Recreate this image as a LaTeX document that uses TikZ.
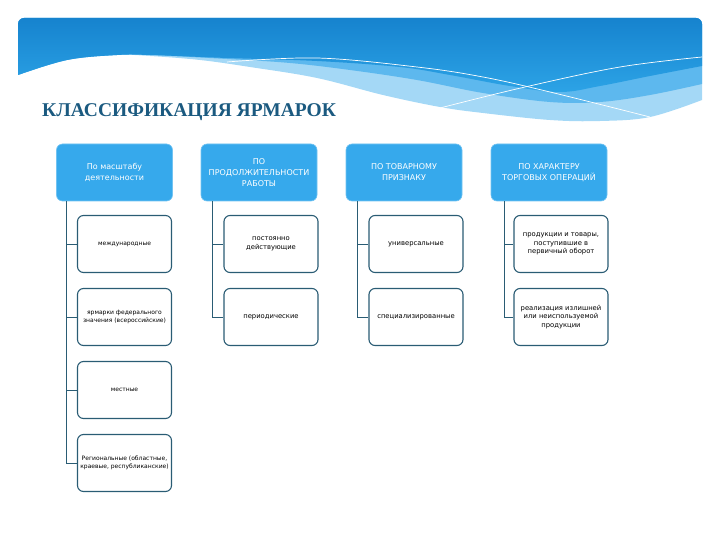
\documentclass[tikz,border=0pt]{standalone}
\usepackage{fontspec}
\setmainfont{DejaVu Sans}
\newfontfamily\titlefont{Liberation Serif}
\definecolor{hdrblue}{HTML}{36A9EC}
\definecolor{teal}{HTML}{2A5C74}
\definecolor{titleblue}{HTML}{1B5A80}
\definecolor{bandtop}{HTML}{1683CE}
\definecolor{bandbot}{HTML}{2CA3E6}
\definecolor{bandmid}{HTML}{5DB8EE}
\definecolor{bandlight}{HTML}{A4D8F6}
\tikzset{
  hdr/.style={fill=hdrblue, draw=hdrblue!70!white, line width=0.6pt, rounded corners=6pt,
    minimum width=116pt, minimum height=57pt, text=white, align=center,
    font=\fontsize{8}{11}\selectfont, inner sep=2pt},
  child/.style={fill=white, draw=teal, line width=1.1pt, rounded corners=6pt,
    minimum width=94pt, minimum height=57pt, text=black, align=center,
    font=\fontsize{6}{8}\selectfont, inner sep=2pt},
  childb/.style={child, font=\fontsize{6.8}{8.5}\selectfont},
  conn/.style={draw=teal, line width=0.9pt},
  wline/.style={draw=white, line width=0.7pt}
}
\begin{document}
\begin{tikzpicture}[x=1pt,y=-1pt]
\useasboundingbox (0,0) rectangle (720,540);
% banner light layer
\fill[bandlight] (18,75) [rounded corners=6pt] -- (18,18) -- (702,18) [sharp corners] -- (702,100)
  -- plot[smooth, tension=0.6] coordinates {(702,100) (650,117) (600,121) (550,120) (483,113) (440,107) (383,95) (317,78) (250,67) (200,60) (150,56) (117,55) (67,60) (18,75)} -- cycle;
% medium layer
\fill[bandmid] (18,75) [rounded corners=6pt] -- (18,18) -- (702,18) [sharp corners] -- (702,84)
  -- plot[smooth, tension=0.6] coordinates {(702,84) (650,95) (600,102) (550,102) (483,93) (417,80) (350,70) (290,63) (227,59) (150,55) (117,55) (67,60) (18,75)} -- cycle;
% dark layer
\shade[top color=bandtop, bottom color=bandbot] (18,75) [rounded corners=6pt] -- (18,18) -- (702,18) [sharp corners] -- (702,66)
  -- plot[smooth, tension=0.6] coordinates {(702,66) (650,76) (600,86) (560,92) (510,86) (450,75) (400,67) (317,61) (227,58) (150,55) (117,55) (67,60) (18,75)} -- cycle;
% white lines
\draw[wline] plot[smooth, tension=0.6] coordinates {(227,62) (317,58) (417,67) (483,77) (550,92) (650,117)};
\draw[wline] plot[smooth, tension=0.6] coordinates {(440,108) (525,87) (620,67) (702,57)};
% title
\node[anchor=west, inner sep=0pt, text=titleblue, font=\titlefont\bfseries\fontsize{19.5}{22}\selectfont] (title) at (42,112) {КЛАССИФИКАЦИЯ ЯРМАРОК};
% headers
\node[hdr] (h1) at (114.5,172.5) {По масштабу\\деятельности};
\node[hdr] (h2) at (259,172.5) {ПО\\ПРОДОЛЖИТЕЛЬНОСТИ\\РАБОТЫ};
\node[hdr] (h3) at (404,172.5) {ПО ТОВАРНОМУ\\ПРИЗНАКУ};
\node[hdr] (h4) at (549,172.5) {ПО ХАРАКТЕРУ\\ТОРГОВЫХ ОПЕРАЦИЙ};
% children column 1
\node[child] (c11) at (124.5,244) {международные};
\node[child] (c12) at (124.5,317) {ярмарки федерального\\значения (всероссийские)};
\node[child] (c13) at (124.5,390) {местные};
\node[child] (c14) at (124.5,463) {Региональные (областные,\\краевые, республиканские)};
% column 2
\node[childb] (c21) at (271,244) {постоянно\\действующие};
\node[childb] (c22) at (271,317) {периодические};
% column 3
\node[childb] (c31) at (416,244) {универсальные};
\node[childb] (c32) at (416,317) {специализированные};
% column 4
\node[childb] (c41) at (561,244) {продукции и товары,\\поступившие в\\первичный оборот};
\node[childb] (c42) at (561,317) {реализация излишней\\или неиспользуемой\\продукции};
% connectors
\coordinate (v1) at ([xshift=10pt]h1.south west);
\coordinate (v2) at ([xshift=12pt]h2.south west);
\coordinate (v3) at ([xshift=12pt]h3.south west);
\coordinate (v4) at ([xshift=14pt]h4.south west);
\foreach \c in {c11,c12,c13,c14} \draw[conn] (v1) |- (\c.west);
\foreach \c in {c21,c22} \draw[conn] (v2) |- (\c.west);
\foreach \c in {c31,c32} \draw[conn] (v3) |- (\c.west);
\foreach \c in {c41,c42} \draw[conn] (v4) |- (\c.west);
\end{tikzpicture}
\end{document}
